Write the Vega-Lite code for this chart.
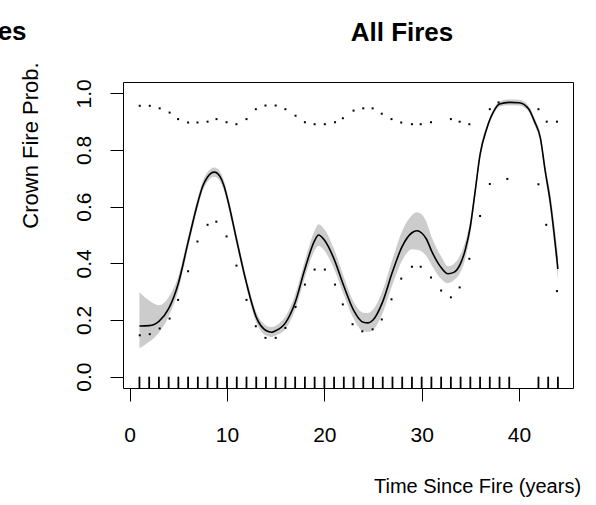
{
  "$schema": "https://vega.github.io/schema/vega-lite/v6.json",
  "width": 450,
  "height": 306,
  "autosize": {"type": "none"},
  "padding": {"left": 123, "top": 82, "right": 23, "bottom": 117},
  "background": "white",
  "title": {"text": "All Fires", "font": "Liberation Sans", "fontSize": 26, "fontWeight": "bold", "color": "black", "anchor": "middle", "frame": "group", "dx": 54, "baseline": "alphabetic", "offset": -48},
  "config": {
    "view": {"stroke": "black", "strokeWidth": 1},
    "axis": {"domain": false, "grid": false, "tickColor": "black", "tickSize": 13, "tickWidth": 1, "labelFont": "Liberation Sans", "labelFontSize": 21, "labelColor": "black", "titleFont": "Liberation Sans", "titleFontWeight": "normal", "titleColor": "black"}
  },
  "datasets": {
    "fit": [
      {"t": 1, "fit": 0.179, "lo": 0.10, "hi": 0.298},
      {"t": 2, "fit": 0.180, "lo": 0.123, "hi": 0.269},
      {"t": 3, "fit": 0.195, "lo": 0.155, "hi": 0.252},
      {"t": 4, "fit": 0.240, "lo": 0.212, "hi": 0.280},
      {"t": 5, "fit": 0.330, "lo": 0.305, "hi": 0.355},
      {"t": 6, "fit": 0.475, "lo": 0.455, "hi": 0.495},
      {"t": 7, "fit": 0.615, "lo": 0.597, "hi": 0.633},
      {"t": 7.5, "fit": 0.672, "lo": 0.655, "hi": 0.690},
      {"t": 8, "fit": 0.705, "lo": 0.688, "hi": 0.722},
      {"t": 8.7, "fit": 0.722, "lo": 0.706, "hi": 0.738},
      {"t": 9.3, "fit": 0.705, "lo": 0.688, "hi": 0.722},
      {"t": 9.7, "fit": 0.672, "lo": 0.655, "hi": 0.690},
      {"t": 10.1, "fit": 0.620, "lo": 0.602, "hi": 0.638},
      {"t": 11, "fit": 0.480, "lo": 0.462, "hi": 0.498},
      {"t": 12, "fit": 0.330, "lo": 0.312, "hi": 0.348},
      {"t": 13, "fit": 0.210, "lo": 0.192, "hi": 0.228},
      {"t": 14, "fit": 0.163, "lo": 0.145, "hi": 0.181},
      {"t": 14.6, "fit": 0.157, "lo": 0.140, "hi": 0.175},
      {"t": 15, "fit": 0.162, "lo": 0.145, "hi": 0.180},
      {"t": 16, "fit": 0.190, "lo": 0.168, "hi": 0.212},
      {"t": 17, "fit": 0.262, "lo": 0.235, "hi": 0.290},
      {"t": 18, "fit": 0.380, "lo": 0.350, "hi": 0.410},
      {"t": 19, "fit": 0.480, "lo": 0.445, "hi": 0.515},
      {"t": 19.4, "fit": 0.500, "lo": 0.462, "hi": 0.538},
      {"t": 20, "fit": 0.482, "lo": 0.445, "hi": 0.520},
      {"t": 21, "fit": 0.415, "lo": 0.380, "hi": 0.450},
      {"t": 22, "fit": 0.320, "lo": 0.288, "hi": 0.352},
      {"t": 23, "fit": 0.235, "lo": 0.205, "hi": 0.265},
      {"t": 24, "fit": 0.192, "lo": 0.160, "hi": 0.226},
      {"t": 24.5, "fit": 0.190, "lo": 0.158, "hi": 0.225},
      {"t": 25, "fit": 0.200, "lo": 0.165, "hi": 0.237},
      {"t": 26, "fit": 0.265, "lo": 0.225, "hi": 0.305},
      {"t": 27, "fit": 0.370, "lo": 0.325, "hi": 0.415},
      {"t": 28, "fit": 0.460, "lo": 0.410, "hi": 0.515},
      {"t": 29, "fit": 0.508, "lo": 0.450, "hi": 0.570},
      {"t": 29.5, "fit": 0.515, "lo": 0.448, "hi": 0.580},
      {"t": 30, "fit": 0.507, "lo": 0.442, "hi": 0.572},
      {"t": 30.5, "fit": 0.485, "lo": 0.425, "hi": 0.545},
      {"t": 31, "fit": 0.445, "lo": 0.395, "hi": 0.495},
      {"t": 32, "fit": 0.385, "lo": 0.345, "hi": 0.425},
      {"t": 32.7, "fit": 0.363, "lo": 0.330, "hi": 0.390},
      {"t": 33.3, "fit": 0.368, "lo": 0.340, "hi": 0.398},
      {"t": 34, "fit": 0.400, "lo": 0.370, "hi": 0.432},
      {"t": 34.5, "fit": 0.450, "lo": 0.420, "hi": 0.480},
      {"t": 35, "fit": 0.530, "lo": 0.505, "hi": 0.555},
      {"t": 35.5, "fit": 0.655, "lo": 0.635, "hi": 0.675},
      {"t": 36, "fit": 0.784, "lo": 0.768, "hi": 0.800},
      {"t": 36.7, "fit": 0.877, "lo": 0.866, "hi": 0.888},
      {"t": 37.4, "fit": 0.936, "lo": 0.927, "hi": 0.945},
      {"t": 38, "fit": 0.962, "lo": 0.953, "hi": 0.971},
      {"t": 39, "fit": 0.968, "lo": 0.958, "hi": 0.978},
      {"t": 40, "fit": 0.967, "lo": 0.957, "hi": 0.977},
      {"t": 41, "fit": 0.945, "lo": 0.935, "hi": 0.955},
      {"t": 41.6, "fit": 0.900, "lo": 0.888, "hi": 0.912},
      {"t": 42.2, "fit": 0.842, "lo": 0.826, "hi": 0.858},
      {"t": 42.7, "fit": 0.725, "lo": 0.705, "hi": 0.745},
      {"t": 43.2, "fit": 0.620, "lo": 0.590, "hi": 0.650},
      {"t": 44, "fit": 0.380, "lo": 0.340, "hi": 0.430}
    ],
    "dots": [
      {"t": 1.03, "v": 0.956}, {"t": 2.06, "v": 0.956}, {"t": 3.08, "v": 0.947}, {"t": 4.1, "v": 0.932},
      {"t": 4.97, "v": 0.909}, {"t": 6.0, "v": 0.897}, {"t": 6.96, "v": 0.897}, {"t": 8.0, "v": 0.900},
      {"t": 8.92, "v": 0.909}, {"t": 9.95, "v": 0.898}, {"t": 10.97, "v": 0.891}, {"t": 12.0, "v": 0.909},
      {"t": 12.96, "v": 0.944}, {"t": 13.95, "v": 0.957}, {"t": 15.0, "v": 0.957}, {"t": 16.0, "v": 0.944},
      {"t": 17.04, "v": 0.921}, {"t": 18.0, "v": 0.898}, {"t": 19.0, "v": 0.891}, {"t": 20.05, "v": 0.891},
      {"t": 21.1, "v": 0.898}, {"t": 21.9, "v": 0.912}, {"t": 23.0, "v": 0.939}, {"t": 24.0, "v": 0.947},
      {"t": 24.96, "v": 0.947}, {"t": 25.9, "v": 0.928}, {"t": 26.9, "v": 0.909}, {"t": 27.9, "v": 0.897},
      {"t": 29.0, "v": 0.891}, {"t": 29.9, "v": 0.891}, {"t": 30.96, "v": 0.898}, {"t": 33.0, "v": 0.909},
      {"t": 33.9, "v": 0.900}, {"t": 34.9, "v": 0.891}, {"t": 37.0, "v": 0.944}, {"t": 37.9, "v": 0.968},
      {"t": 42.0, "v": 0.944}, {"t": 42.85, "v": 0.900}, {"t": 43.9, "v": 0.900},
      {"t": 1.03, "v": 0.146}, {"t": 2.06, "v": 0.150}, {"t": 3.08, "v": 0.170}, {"t": 4.1, "v": 0.205},
      {"t": 4.97, "v": 0.271}, {"t": 6.0, "v": 0.372}, {"t": 6.96, "v": 0.477}, {"t": 8.0, "v": 0.536},
      {"t": 8.9, "v": 0.547}, {"t": 9.95, "v": 0.495}, {"t": 10.97, "v": 0.392}, {"t": 12.0, "v": 0.271},
      {"t": 12.96, "v": 0.178}, {"t": 13.95, "v": 0.137}, {"t": 15.0, "v": 0.137}, {"t": 16.0, "v": 0.172},
      {"t": 17.04, "v": 0.246}, {"t": 18.0, "v": 0.325}, {"t": 19.0, "v": 0.378}, {"t": 20.05, "v": 0.378},
      {"t": 21.1, "v": 0.325}, {"t": 21.9, "v": 0.255}, {"t": 22.9, "v": 0.185}, {"t": 23.9, "v": 0.160},
      {"t": 24.96, "v": 0.167}, {"t": 25.9, "v": 0.202}, {"t": 26.9, "v": 0.273}, {"t": 27.9, "v": 0.346},
      {"t": 29.0, "v": 0.388}, {"t": 29.9, "v": 0.388}, {"t": 30.96, "v": 0.350}, {"t": 32.0, "v": 0.304},
      {"t": 33.0, "v": 0.280}, {"t": 33.9, "v": 0.315}, {"t": 34.9, "v": 0.416}, {"t": 36.0, "v": 0.567},
      {"t": 37.0, "v": 0.680}, {"t": 38.8, "v": 0.698}, {"t": 42.0, "v": 0.679}, {"t": 42.8, "v": 0.536},
      {"t": 43.9, "v": 0.302}
    ],
    "rug": [
      {"t": 1}, {"t": 2}, {"t": 3}, {"t": 4}, {"t": 5}, {"t": 6}, {"t": 7}, {"t": 8}, {"t": 9}, {"t": 10},
      {"t": 11}, {"t": 12}, {"t": 13}, {"t": 14}, {"t": 15}, {"t": 16}, {"t": 17}, {"t": 18}, {"t": 19}, {"t": 20},
      {"t": 21}, {"t": 22}, {"t": 23}, {"t": 24}, {"t": 25}, {"t": 26}, {"t": 27}, {"t": 28}, {"t": 29}, {"t": 30},
      {"t": 31}, {"t": 32}, {"t": 33}, {"t": 34}, {"t": 35}, {"t": 36}, {"t": 37}, {"t": 38}, {"t": 39},
      {"t": 42}, {"t": 43}, {"t": 44}
    ],
    "lab": [{"label": "es"}]
  },
  "layer": [
    {
      "data": {"name": "fit"},
      "mark": {"type": "area", "color": "#cccccc", "interpolate": "monotone"},
      "encoding": {
        "x": {"field": "t", "type": "quantitative", "scale": {"domain": [-0.69, 45.55], "nice": false, "zero": false},
              "axis": {"values": [0, 10, 20, 30, 40], "labelBaseline": "alphabetic", "labelPadding": 40, "title": "Time Since Fire (years)", "titleFontSize": 20, "titleX": 354, "titleY": 104, "titleAlign": "center", "titleBaseline": "alphabetic", "titleAngle": 0}},
        "y": {"field": "lo", "type": "quantitative", "scale": {"domain": [-0.04, 1.04], "nice": false, "zero": false},
              "axis": {"values": [0, 0.2, 0.4, 0.6, 0.8, 1.0], "format": ".1f", "labelAngle": -90, "labelAlign": "center", "labelBaseline": "alphabetic", "labelPadding": 20, "title": "Crown Fire Prob.", "titleFontSize": 22, "titleAngle": 270, "titleX": -86, "titleY": 63, "titleAlign": "center", "titleBaseline": "alphabetic"}},
        "y2": {"field": "hi"}
      }
    },
    {
      "data": {"name": "fit"},
      "mark": {"type": "line", "color": "black", "strokeWidth": 1.6, "interpolate": "monotone"},
      "encoding": {
        "x": {"field": "t", "type": "quantitative"},
        "y": {"field": "fit", "type": "quantitative"}
      }
    },
    {
      "data": {"name": "dots"},
      "mark": {"type": "point", "shape": "square", "filled": true, "color": "black", "size": 4, "opacity": 1},
      "encoding": {
        "x": {"field": "t", "type": "quantitative"},
        "y": {"field": "v", "type": "quantitative"}
      }
    },
    {
      "data": {"name": "rug"},
      "mark": {"type": "rule", "color": "black", "strokeWidth": 1.8},
      "encoding": {
        "x": {"field": "t", "type": "quantitative"},
        "y": {"datum": -0.04},
        "y2": {"datum": 0.0}
      }
    },
    {
      "data": {"name": "lab"},
      "mark": {"type": "text", "font": "Liberation Sans", "fontSize": 26, "fontWeight": "bold", "color": "black", "align": "right", "baseline": "alphabetic"},
      "encoding": {
        "x": {"datum": -10.6},
        "y": {"datum": 1.19},
        "text": {"field": "label"}
      }
    }
  ]
}
